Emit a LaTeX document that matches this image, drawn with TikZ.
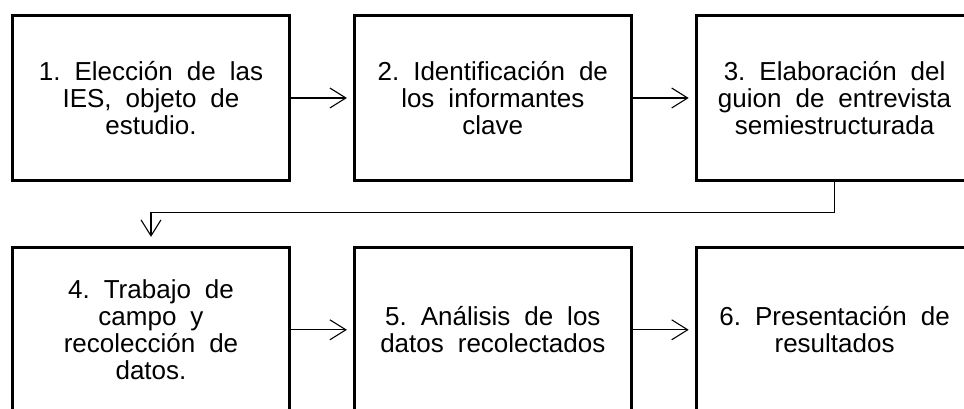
\documentclass[tikz,border=0pt]{standalone}
\usepackage{fontspec}
\setmainfont{Liberation Sans}
\usetikzlibrary{positioning}
\usetikzlibrary{arrows.meta}

\newcommand{\pasofont}{\fontsize{26}{26.8}\selectfont\frenchspacing\spaceskip=14pt plus 3pt\relax}

\begin{document}
\begin{tikzpicture}[x=1pt,y=1pt,
pasoblock/.style={draw,rectangle,line width=2.8pt,inner sep=0pt,minimum width=277pt,minimum height=165pt,align=center,font=\pasofont},
flecha/.style={line width=1.1pt,-{Straight Barb[length=16pt,width=20pt]}},
node distance=62pt and 62pt]

\useasboundingbox (0,0) rectangle (964,409);
\clip (0,0) rectangle (964,409);

\node[pasoblock] (P1) at (151,311) {1. Elección de las\\IES, objeto de\\estudio.};
\node[pasoblock,right=of P1] (P2) {2. Identificación de\\los informantes\\clave};
\node[pasoblock,right=of P2] (P3) {3. Elaboración del\\guion de entrevista\\semiestructurada};
\node[pasoblock,below=64pt of P1] (P4) {4. Trabajo de\\campo y\\recolección de\\datos.};
\node[pasoblock,right=of P4] (P5) {5. Análisis de los\\datos recolectados};
\node[pasoblock,right=of P5] (P6) {6. Presentación de\\resultados};

\draw[flecha,shorten >=6pt] (P1) -- (P2);
\draw[flecha,shorten >=6pt] (P2) -- (P3);
\draw[flecha,shorten >=9pt] (P3.south) -- ++(0,-31) -| (P4.north);
\draw[flecha,shorten >=6pt] (P4) -- (P5);
\draw[flecha,shorten >=6pt] (P5) -- (P6);

\end{tikzpicture}
\end{document}
